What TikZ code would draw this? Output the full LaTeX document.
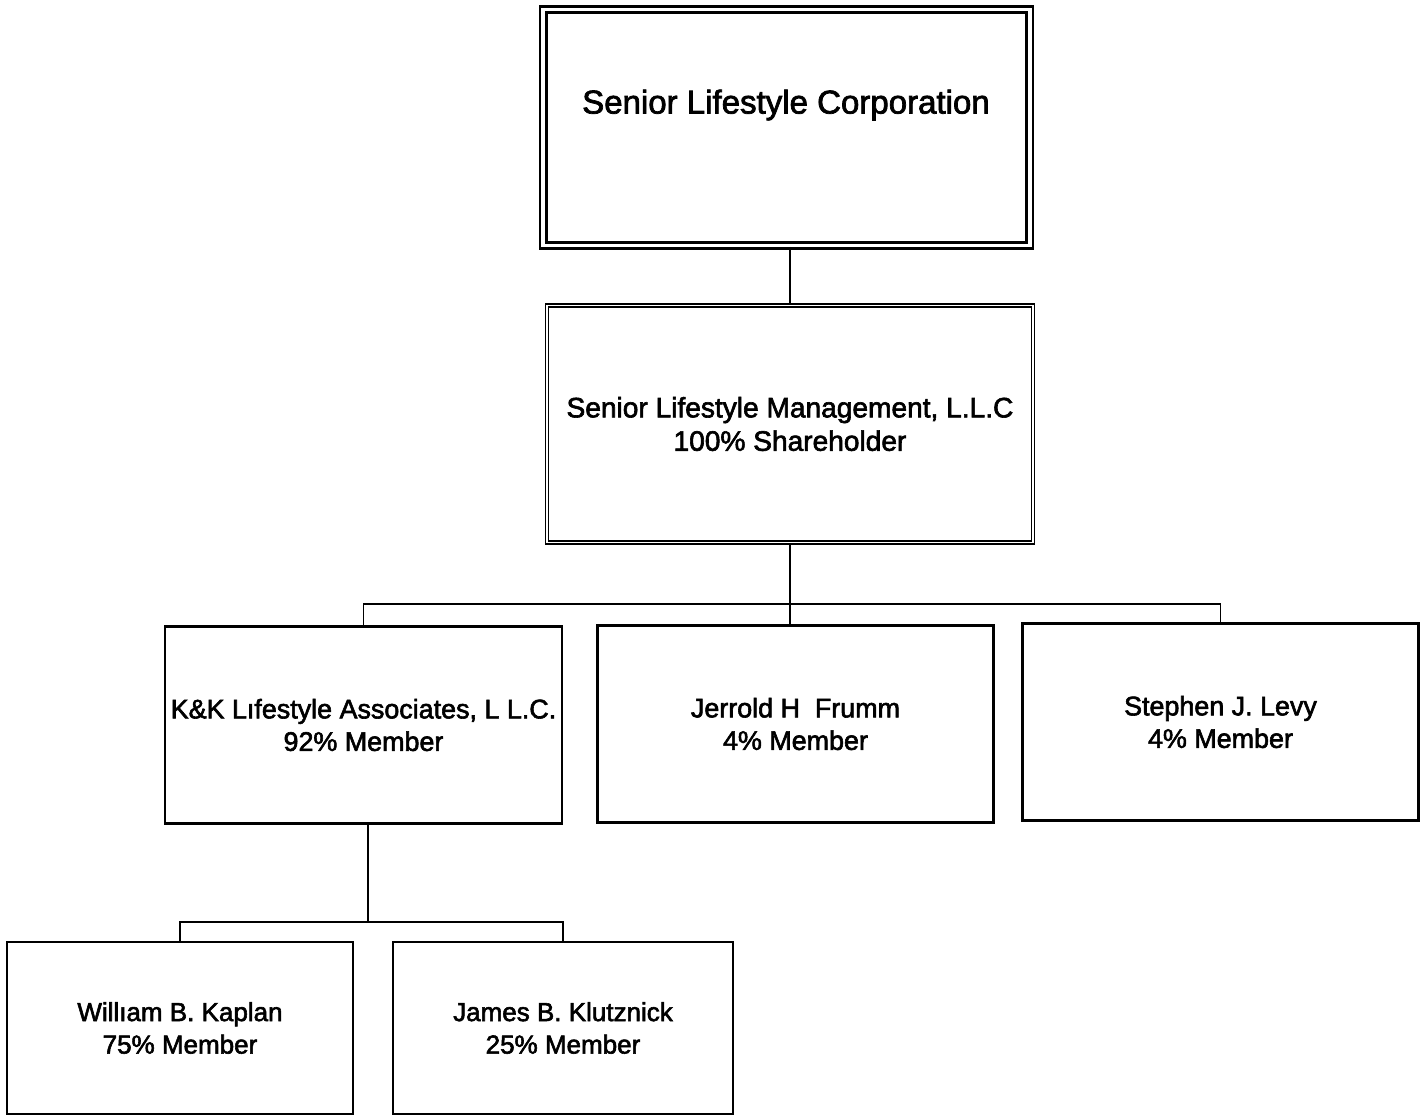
\documentclass[tikz,border=0pt]{standalone}
\usepackage{fontspec}
\setmainfont{Liberation Sans}
\newfontfamily\scanfont[FakeBold=2.2]{Liberation Sans}

\begin{document}
\begin{tikzpicture}[
    x=0.02cm, y=-0.02cm,
    box/.style={rectangle, minimum width=7.92cm, minimum height=3.94cm,
                text centered, align=center, draw=black, line width=1.2pt, fill=white,
                font=\scanfont\fontsize{15.3}{18.5}\selectfont},
    smallbox/.style={box, minimum height=3.44cm, font=\scanfont\fontsize{14.8}{18.5}\selectfont},
    corpbox/.style={rectangle, minimum width=9.74cm, minimum height=4.72cm,
                    draw=black, double, line width=1.5pt, double distance=2.1pt},
    mgmtbox/.style={box, minimum width=9.72cm, minimum height=4.74cm,
                    double, line width=1pt, double distance=0.7pt,
                    font=\scanfont\fontsize{16}{19}\selectfont},
    titlestyle/.style={font=\scanfont\fontsize{18.8}{22}\selectfont},
    link/.style={line width=0.8pt}
]
\useasboundingbox (0,0) rectangle (1420,1117);

% ==================== TOP ====================
\node[corpbox] (corp) at (786.5, 127.5) {};
\node[titlestyle] (corp-title) at (786, 105) {Senior Lifestyle Corporation};

% ==================== MANAGEMENT ====================
\node[mgmtbox] (mgmt) at (790, 424) {Senior Lifestyle Management, L.L.C\\100\% Shareholder};

% ==================== MEMBERS ====================
\node[box] (kk) at (363.5, 725) {K\&K Lıfestyle Associates, L L.C.\\92\% Member};
\node[box] (frumm) at (795.5, 724) {Jerrold H\ \ Frumm\\4\% Member};
\node[box] (levy) at (1220.5, 722) {Stephen J. Levy\\4\% Member};

% ==================== K&K MEMBERS ====================
\node[smallbox, minimum width=6.92cm] (kaplan) at (180, 1028) {Willıam B. Kaplan\\75\% Member};
\node[smallbox, minimum width=6.8cm] (klutznick) at (563, 1028) {James B. Klutznick\\25\% Member};

% ==================== CONNECTORS ====================
\coordinate (mgmt-bar) at (790, 604);
\coordinate (kk-bar) at (368, 922);

\draw[link] (corp.south -| mgmt.north) -- (mgmt.north);

\draw[link] (mgmt.south) -- (mgmt-bar);
\draw[link] (mgmt-bar) -- (frumm.north -| mgmt-bar);
\draw[link] (kk.north) |- (mgmt-bar) -| (levy.north);

\draw[link] (kk.south -| kk-bar) -- (kk-bar);
\draw[link] (kaplan.north) |- (kk-bar) -| (klutznick.north);

\end{tikzpicture}
\end{document}
